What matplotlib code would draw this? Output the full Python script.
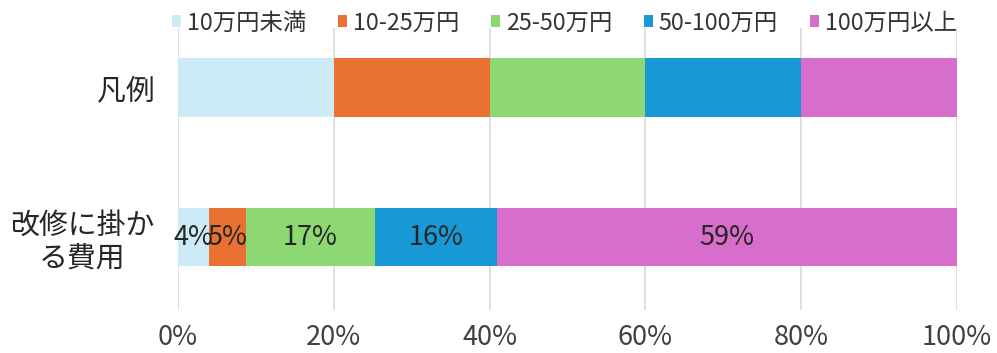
import matplotlib
matplotlib.use("Agg")
import matplotlib.pyplot as plt
from matplotlib.patches import Patch

plt.rcParams['font.family'] = ['Noto Sans CJK JP', 'DejaVu Sans']

# Cost brackets (legend order) and their colours
brackets = ["10万円未満", "10-25万円", "25-50万円", "50-100万円", "100万円以上"]
colors = ["#cdebf7", "#e97132", "#8ed873", "#1899d6", "#d86ecc"]

# Rows: a legend swatch row of equal parts, and the actual cost distribution (%)
rows = ["改修に掛か\nる費用", "凡例"]
legend_row = [20, 20, 20, 20, 20]
cost_row = [4.0, 4.7, 16.6, 15.7, 59.0]
tick_values = [0, 20, 40, 60, 80, 100]
tick_labels = ["0%", "20%", "40%", "60%", "80%", "100%"]

fig = plt.figure(figsize=(9.97, 3.53), dpi=100)
ax = fig.add_axes([0.1785, 0.122, 0.7815, 0.80])

series = [cost_row, legend_row]
bar_h = 0.39
for yi, values in enumerate(series):
    left = 0.0
    for j, v in enumerate(values):
        ax.barh(yi, v, left=left, height=bar_h, color=colors[j], edgecolor="none", zorder=2)
        if yi == 0:
            ax.text(left + v / 2, yi, f"{v:.0f}%", ha="center", va="center",
                    fontsize=19.5, color="#262626", zorder=3)
        left += v

ax.set_xlim(0, 100)
ax.set_ylim(-0.487, 1.40)
ax.set_xticks(tick_values)
ax.set_xticklabels(tick_labels, fontsize=19.5, color="#404040")
ax.set_yticks([0, 1])
ax.set_yticklabels(rows, fontsize=20.8, color="#262626", linespacing=1.15,
                   multialignment="center")
ax.tick_params(axis="y", length=0, pad=17)
ax.tick_params(axis="x", length=0, pad=10)
ax.grid(axis="x", color="#d9d9d9", linewidth=1.2, zorder=0)
for s in ax.spines.values():
    s.set_visible(False)

handles = [Patch(facecolor=c, edgecolor="none") for c in colors]
fig.legend(handles, brackets, loc="center", bbox_to_anchor=(0.566, 1 - 23 / 353),
           ncol=5, frameon=False, fontsize=16.8, handlelength=0.4, handleheight=0.4,
           handletextpad=0.25, columnspacing=1.35, labelcolor="#333333")

fig.savefig("out.png", dpi=100, facecolor="white")
